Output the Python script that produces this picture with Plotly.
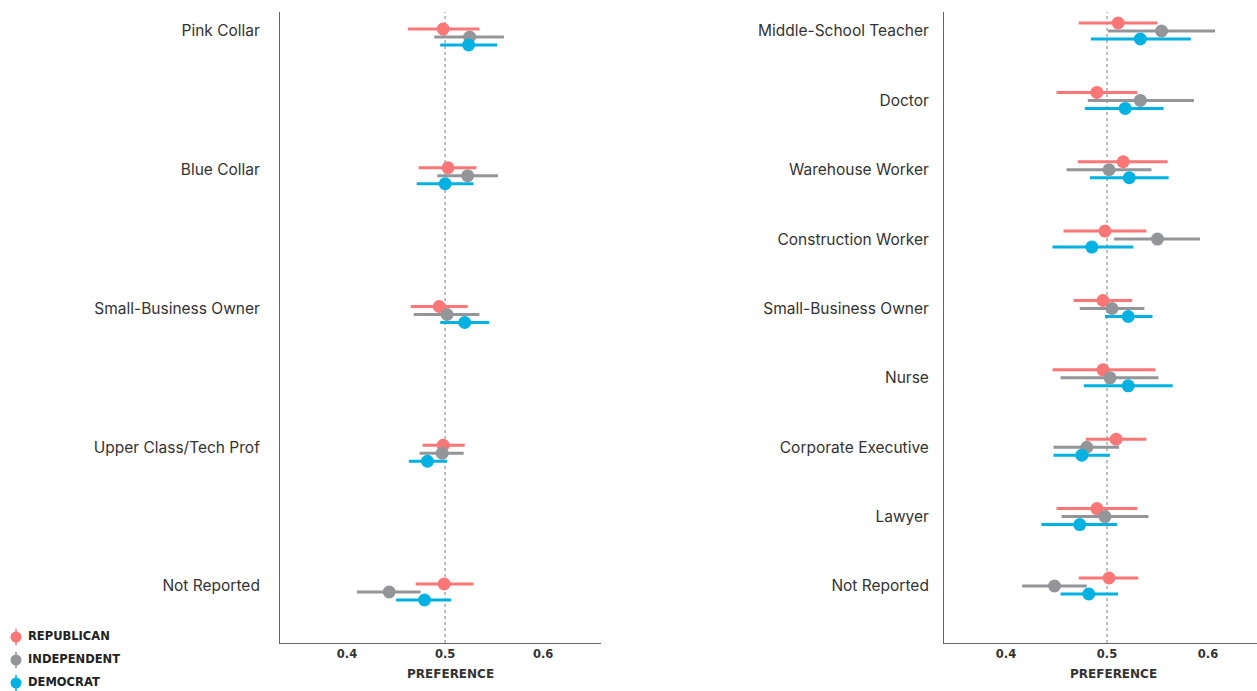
import plotly.graph_objects as go

# ---------------- data ----------------
left_categories = ["Pink Collar", "Blue Collar", "Small-Business Owner",
                   "Upper Class/Tech Prof", "Not Reported"]
left_rep = [0.498, 0.503, 0.494, 0.498, 0.499]
left_rep_lo = [0.462, 0.473, 0.465, 0.477, 0.470]
left_rep_hi = [0.535, 0.532, 0.523, 0.520, 0.529]
left_ind = [0.525, 0.523, 0.502, 0.497, 0.443]
left_ind_lo = [0.489, 0.492, 0.468, 0.474, 0.410]
left_ind_hi = [0.560, 0.554, 0.535, 0.519, 0.475]
left_dem = [0.524, 0.500, 0.520, 0.482, 0.479]
left_dem_lo = [0.495, 0.471, 0.495, 0.463, 0.450]
left_dem_hi = [0.553, 0.529, 0.545, 0.502, 0.506]

right_categories = ["Middle-School Teacher", "Doctor", "Warehouse Worker",
                    "Construction Worker", "Small-Business Owner", "Nurse",
                    "Corporate Executive", "Lawyer", "Not Reported"]
right_rep = [0.511, 0.490, 0.516, 0.498, 0.496, 0.496, 0.509, 0.490, 0.502]
right_rep_lo = [0.472, 0.450, 0.471, 0.457, 0.467, 0.446, 0.479, 0.450, 0.472]
right_rep_hi = [0.550, 0.530, 0.560, 0.539, 0.525, 0.548, 0.539, 0.530, 0.531]
right_ind = [0.554, 0.533, 0.502, 0.550, 0.505, 0.503, 0.480, 0.498, 0.448]
right_ind_lo = [0.501, 0.481, 0.460, 0.507, 0.473, 0.454, 0.447, 0.455, 0.416]
right_ind_hi = [0.607, 0.586, 0.544, 0.592, 0.537, 0.551, 0.512, 0.541, 0.480]
right_dem = [0.533, 0.518, 0.522, 0.485, 0.521, 0.521, 0.475, 0.473, 0.482]
right_dem_lo = [0.484, 0.478, 0.483, 0.446, 0.498, 0.477, 0.447, 0.435, 0.454]
right_dem_hi = [0.583, 0.556, 0.561, 0.526, 0.545, 0.565, 0.503, 0.510, 0.511]

parties = ["REPUBLICAN", "INDEPENDENT", "DEMOCRAT"]
colors = ["#FB7677", "#939598", "#00B1E1"]

x_ticks = [0.4, 0.5, 0.6]
x_tick_labels = ["0.4", "0.5", "0.6"]
x_title = "PREFERENCE"

# ---------------- layout constants ----------------
W, H = 1257, 691
plot_top, plot_bottom = 12, 643
FONT = "Inter, Roboto, sans-serif"
CAPS_FONT = "DejaVu Sans, sans-serif"
TXT = "#333333"

left_px = (280, 601)
right_px = (944, 1257)
left_xrange = [0.3316, 0.659]
right_xrange = [0.3386, 0.6485]

left_yrange = [len(left_categories) - 1 + 0.411, -0.137]
right_yrange = [len(right_categories) - 1 + 0.822, -0.274]

dodge_px = 8
left_shift_px = 6


def px_per_unit(yr):
    return (plot_bottom - plot_top) / abs(yr[0] - yr[1])


fig = go.Figure()


def add_panel(cats, groups, xa, ya, yr, shift_px):
    ppu = px_per_unit(yr)
    offs = [(-dodge_px + shift_px) / ppu, shift_px / ppu, (dodge_px + shift_px) / ppu]
    for (vals, lo, hi), col, off in zip(groups, colors, offs):
        ys = [i + off for i in range(len(cats))]
        fig.add_trace(go.Scatter(
            x=vals, y=ys, mode="markers", xaxis=xa, yaxis=ya,
            marker=dict(size=13, color=col, line=dict(width=0)),
            error_x=dict(type="data", symmetric=False,
                         array=[h - v for h, v in zip(hi, vals)],
                         arrayminus=[v - l for v, l in zip(vals, lo)],
                         color=col, thickness=3, width=0),
            showlegend=False, hoverinfo="x+y"))


add_panel(left_categories,
          [(left_rep, left_rep_lo, left_rep_hi),
           (left_ind, left_ind_lo, left_ind_hi),
           (left_dem, left_dem_lo, left_dem_hi)],
          "x", "y", left_yrange, left_shift_px)
add_panel(right_categories,
          [(right_rep, right_rep_lo, right_rep_hi),
           (right_ind, right_ind_lo, right_ind_hi),
           (right_dem, right_dem_lo, right_dem_hi)],
          "x2", "y2", right_yrange, 0)

# legend drawn as its own small axis
leg_y = list(range(len(parties)))
for yy, col in zip(leg_y, colors):
    fig.add_trace(go.Scatter(
        x=[16], y=[yy], mode="markers", xaxis="x3", yaxis="y3",
        marker=dict(size=11, color=col), cliponaxis=False,
        error_y=dict(type="constant", value=0.36, color=col, thickness=1.5, width=0),
        showlegend=False, hoverinfo="skip"))
fig.add_trace(go.Scatter(
    x=[28] * len(parties), y=leg_y, mode="text", xaxis="x3", yaxis="y3",
    text=parties, textposition="middle right", cliponaxis=False,
    textfont=dict(family=CAPS_FONT, size=11.5, color="#222222", weight="bold"),
    showlegend=False, hoverinfo="skip"))


def dom_x(p):
    return [p[0] / W, p[1] / W]


y_dom = [(H - plot_bottom) / H, (H - plot_top) / H]

xcommon = dict(tickvals=x_ticks, ticktext=x_tick_labels, showgrid=False, zeroline=False,
               showline=True, linecolor="#666666", linewidth=1, ticks="",
               tickfont=dict(family=CAPS_FONT, size=11.5, color=TXT, weight="bold"))
ycommon = dict(showgrid=False, zeroline=False, showline=True, linecolor="#666666",
               linewidth=1, ticks="",
               tickfont=dict(family=FONT, size=15.5, color=TXT))

fig.update_layout(
    width=W, height=H, margin=dict(l=0, r=0, t=0, b=0),
    paper_bgcolor="white", plot_bgcolor="white",
    xaxis=dict(domain=dom_x(left_px), range=left_xrange, anchor="y", **xcommon),
    yaxis=dict(domain=y_dom, range=left_yrange, anchor="x", ticklabelstandoff=16,
               tickvals=list(range(len(left_categories))), ticktext=left_categories,
               **ycommon),
    xaxis2=dict(domain=dom_x(right_px), range=right_xrange, anchor="y2", **xcommon),
    yaxis2=dict(domain=y_dom, range=right_yrange, anchor="x2", ticklabelstandoff=11,
                tickvals=list(range(len(right_categories))), ticktext=right_categories,
                **ycommon),
    xaxis3=dict(domain=[0, 200 / W], range=[0, 200], visible=False, fixedrange=True),
    yaxis3=dict(domain=[0, (H - 628) / H], range=[2.348, -0.391], visible=False,
                fixedrange=True, anchor="x3"),
    showlegend=False,
)

# axis titles (centred a little right of the panel middle, as in the source)
for xref, frac in [("x domain", 0.53), ("x2 domain", 0.543)]:
    fig.add_annotation(text=x_title, xref=xref, yref="paper", x=frac, y=(H - 674) / H,
                       xanchor="center", yanchor="middle", showarrow=False,
                       font=dict(family=CAPS_FONT, size=12, color=TXT, weight="bold"))

fig.add_shape(type="line", xref="x", yref="y domain", x0=0.5, x1=0.5, y0=0, y1=1,
              line=dict(color="#AAAAAA", width=1.5, dash="dot"), layer="below")
fig.add_shape(type="line", xref="x2", yref="y2 domain", x0=0.5, x1=0.5, y0=0, y1=1,
              line=dict(color="#AAAAAA", width=1.5, dash="dot"), layer="below")

fig.write_html("out.html")
